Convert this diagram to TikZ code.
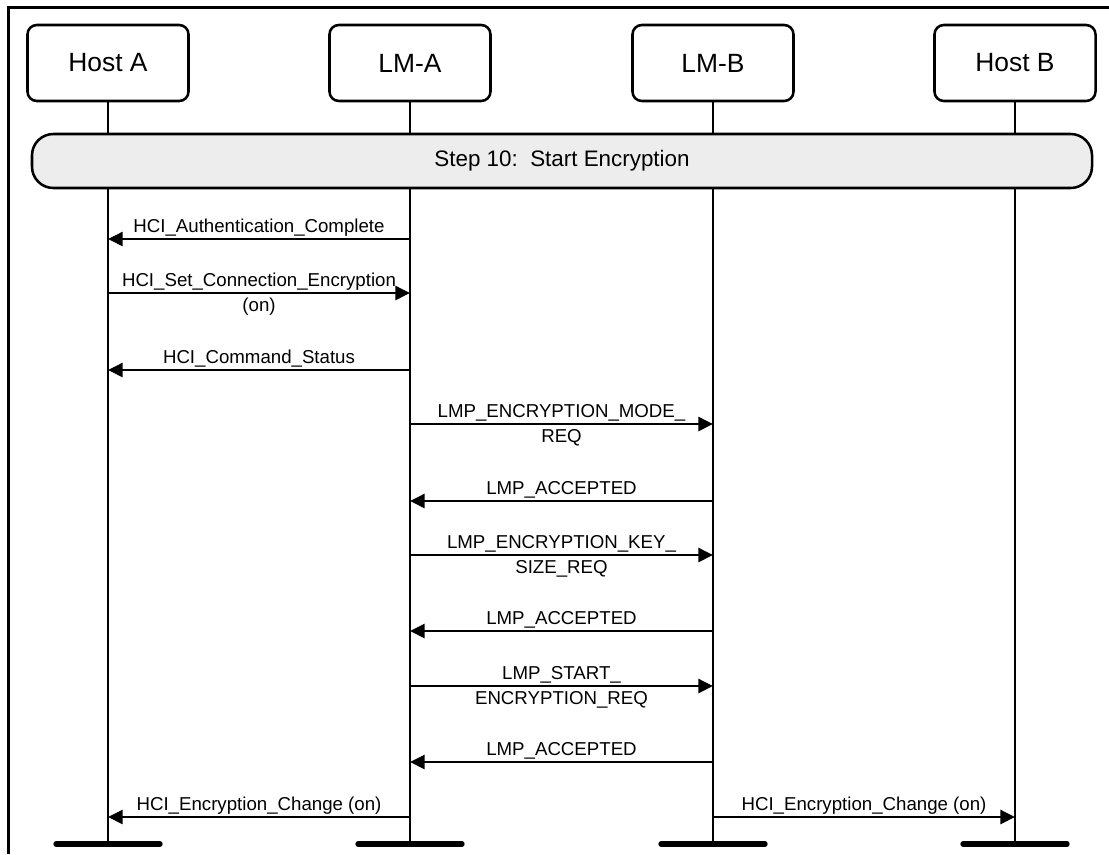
\documentclass[tikz,border=0pt]{standalone}
\usepackage{fontspec}
\setmainfont{Liberation Sans}
\usetikzlibrary{arrows.meta, positioning}
\tikzset{
  entity/.style={draw, line width=1.9pt, rounded corners=7pt, minimum width=120.75pt,
    minimum height=57pt, inner sep=0pt, font=\fontsize{19.8}{23}\selectfont},
  stepbar/.style={draw, line width=1.9pt, fill=black!7, rounded corners=16pt,
    minimum width=795pt, minimum height=40.5pt, inner sep=0pt, font=\fontsize{16.8}{20}\selectfont},
  lifeline/.style={line width=1.9pt},
  msg/.style={-{Triangle[length=11pt, width=10.5pt]}, line width=1.9pt},
  msglabel/.style={font=\fontsize{14}{16}\selectfont, inner sep=0pt, anchor=base},
  uptext/.style={msglabel, midway, yshift=5.25pt},
  downtext/.style={msglabel, midway, yshift=-13.6pt},
  endbar/.style={line width=4pt, line cap=round},
}

\begin{document}
\begin{tikzpicture}[x=0.75pt, y=-0.75pt]
  \useasboundingbox (0,0) rectangle (1109,854);
  % Rahmen (nur links und oben)
  \draw[line width=2.2pt] (8.6,854) -- (8.6,7.5) -- (1109,7.5);

  % Teilnehmer
  \node[entity] (hosta) at (108,63) {Host A};
  \node[entity] (lma) at (410,63) {LM-A};
  \node[entity] (lmb) at (713,63) {LM-B};
  \node[entity] (hostb) at (1015,63) {Host B};

  % Lebenslinien und Punkte fuer die Nachrichten
  \foreach \l in {hosta,lma,lmb,hostb}{
    \coordinate (\l-end) at (\l.south |- 0,844);
    \draw[lifeline] (\l.south) -- (\l-end);
    \draw[endbar] ([xshift=-39pt]\l-end) -- ([xshift=39pt]\l-end);
    \foreach \n/\y in {1/239,2/293,3/370,4/424,5/501,6/555,7/631,8/686,9/762,10/817}{
      \coordinate (\l-\n) at (\l.south |- 0,\y);
    }
  }

  \node[stepbar] (step) at (562,161) {Step 10:\ \ Start Encryption};

  % Nachrichten
  \draw[msg] (lma-1) -- (hosta-1) node[uptext] (m1) {HCI\_Authentication\_Complete};
  \draw[msg] (hosta-2) -- (lma-2) node[uptext] (m2) {HCI\_Set\_Connection\_Encryption}
    node[downtext] (m2b) {(on)};
  \draw[msg] (lma-3) -- (hosta-3) node[uptext] (m3) {HCI\_Command\_Status};
  \draw[msg] (lma-4) -- (lmb-4) node[uptext] (m4) {LMP\_ENCRYPTION\_MODE\_}
    node[downtext] (m4b) {REQ};
  \draw[msg] (lmb-5) -- (lma-5) node[uptext] (m5) {LMP\_ACCEPTED};
  \draw[msg] (lma-6) -- (lmb-6) node[uptext] (m6) {LMP\_ENCRYPTION\_KEY\_}
    node[downtext] (m6b) {SIZE\_REQ};
  \draw[msg] (lmb-7) -- (lma-7) node[uptext] (m7) {LMP\_ACCEPTED};
  \draw[msg] (lma-8) -- (lmb-8) node[uptext] (m8) {LMP\_START\_}
    node[downtext] (m8b) {ENCRYPTION\_REQ};
  \draw[msg] (lmb-9) -- (lma-9) node[uptext] (m9) {LMP\_ACCEPTED};
  \draw[msg] (lma-10) -- (hosta-10) node[uptext] (m10) {HCI\_Encryption\_Change (on)};
  \draw[msg] (lmb-10) -- (hostb-10) node[uptext] (m11) {HCI\_Encryption\_Change (on)};
\end{tikzpicture}
\end{document}
